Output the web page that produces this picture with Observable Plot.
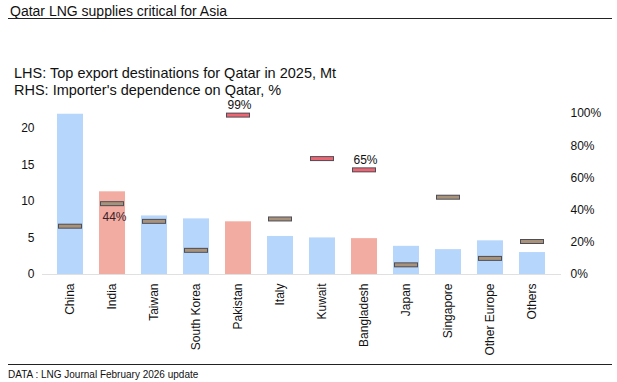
<!DOCTYPE html>
<html>
<head>
<meta charset="utf-8">
<script src="https://cdn.jsdelivr.net/npm/d3@7"></script>
<script src="https://cdn.jsdelivr.net/npm/@observablehq/plot@0.6"></script>
<style>
  html, body { margin: 0; padding: 0; background: #fff; }
  #wrap { position: relative; width: 617px; height: 382px; font-family: "Liberation Sans", Arial, sans-serif; color: #111; overflow: hidden; }
  .t { position: absolute; white-space: nowrap; line-height: 1; }
  .rule { position: absolute; height: 1px; background: #222; }
  #chart { position: absolute; left: 0; top: 95px; }
</style>
</head>
<body>
<div id="wrap">
  <div class="t" style="left:10px; top:4px; font-size:14px;">Qatar LNG supplies critical for Asia</div>
  <div class="rule" style="left:8px; width:604px; top:18px;"></div>
  <div class="t" style="left:14px; top:66px; font-size:14.5px;">LHS: Top export destinations for Qatar in 2025, Mt</div>
  <div class="t" style="left:14px; top:83px; font-size:14.5px;">RHS: Importer's dependence on Qatar, %</div>
  <div id="chart"></div>
  <div class="rule" style="left:8px; width:604px; top:364px;"></div>
  <div class="t" style="left:8px; top:370px; font-size:10px;">DATA : LNG Journal February 2026 update</div>
</div>
<script>
const categories = ["China","India","Taiwan","South Korea","Pakistan","Italy","Kuwait","Bangladesh","Japan","Singapore","Other Europe","Others"];
const volumeMt = [21.9, 11.3, 8.0, 7.6, 7.2, 5.2, 5.0, 4.9, 3.85, 3.4, 4.6, 3.0];
const dependencePct = [30, 44, 33, 15, 99, 34.5, 72, 65, 6, 48, 10, 20.5];
const southAsia = ["India","Pakistan","Bangladesh"];
const highDependence = ["Pakistan","Kuwait","Bangladesh"];
const labelBelow = ["India"];
const labelAbove = ["Pakistan","Bangladesh"];
const leftTicks = [0, 5, 10, 15, 20];
const rightTicks = [0, 20, 40, 60, 80, 100];

const yMax = 22;
const toLeft = p => p * yMax / 100;

const rows = categories.map((c, i) => ({
  cat: c,
  vol: volumeMt[i],
  dep: dependencePct[i],
  barFill: southAsia.includes(c) ? "#f2aca2" : "#b7d6fc",
  markFill: highDependence.includes(c) ? "#ee6672" : "#a8937a"
}));
const belowRows = rows.filter(d => labelBelow.includes(d.cat));
const aboveRows = rows.filter(d => labelAbove.includes(d.cat));
const pctText = d => Math.round(d.dep) + "%";

const chart = Plot.plot({
  width: 617,
  height: 265,
  marginLeft: 36,
  marginRight: 50,
  marginTop: 18,
  marginBottom: 86,
  x: { domain: categories, padding: 0.37, label: null },
  y: { domain: [0, yMax], label: null },
  color: { type: "identity" },
  style: { fontFamily: "Liberation Sans, Arial, sans-serif", fontSize: "12px", color: "#111", background: "transparent", overflow: "visible" },
  marks: [
    Plot.barY(rows, { x: "cat", y: "vol", fill: "barFill" }),
    Plot.ruleY([0], { stroke: "#e0e0e0", insetLeft: 6, insetRight: 6 }),
    Plot.tickY(rows, { x: "cat", y: d => toLeft(d.dep), stroke: "#4e4e58", strokeWidth: 5, insetLeft: 1, insetRight: 1 }),
    Plot.tickY(rows, { x: "cat", y: d => toLeft(d.dep), stroke: "markFill", strokeWidth: 3, insetLeft: 2, insetRight: 2 }),
    Plot.axisY(leftTicks, { anchor: "left", tickSize: 0, tickPadding: 2, tickFormat: d => String(d), label: null }),
    Plot.axisY(rightTicks.map(toLeft), { anchor: "right", tickSize: 0, tickPadding: 3, tickFormat: d => Math.round(d * 100 / yMax) + "%", label: null }),
    Plot.axisX({ tickRotate: -90, tickSize: 0, tickPadding: 9, label: null }),
    Plot.text(belowRows, { x: "cat", y: d => toLeft(d.dep), text: pctText, dy: 13, dx: 2, fill: "#3a1f2a", fontSize: 12, textAnchor: "middle" }),
    Plot.text(aboveRows, { x: "cat", y: d => toLeft(d.dep), text: pctText, dy: -10, dx: 1, fill: "#111", fontSize: 12, textAnchor: "middle" })
  ]
});
document.getElementById("chart").appendChild(chart);
</script>
</body>
</html>
